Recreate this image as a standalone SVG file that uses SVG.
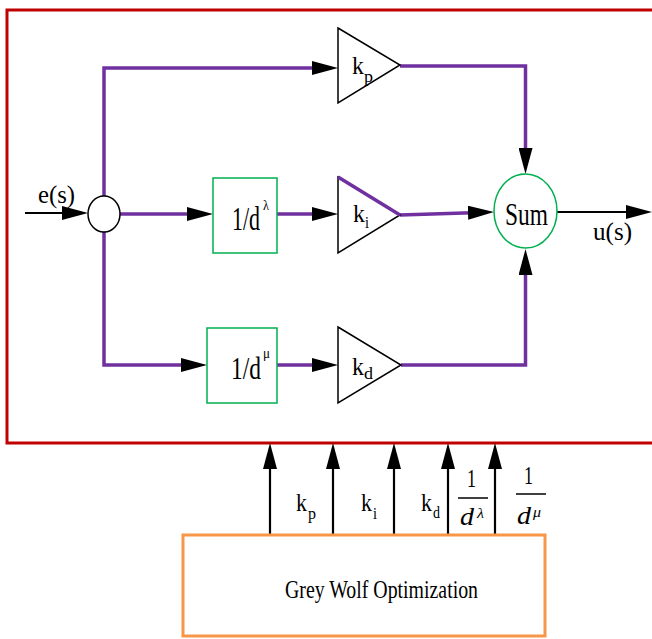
<svg xmlns="http://www.w3.org/2000/svg" width="652" height="639" viewBox="0 0 652 639">
<style>
.t{font-family:"Liberation Serif","Times New Roman","DejaVu Serif","Noto Serif",serif;fill:#000}
.it{font-style:italic}
.pu{fill:none;stroke:#7030a0;stroke-width:3.5}
.bk{fill:none;stroke:#000;stroke-width:2.2}
.gr{fill:#fff;stroke:#00b050;stroke-width:1.5}
.tri{fill:#fff;stroke:#000;stroke-width:1.5}
</style>
<defs>
<marker id="ah" markerUnits="userSpaceOnUse" markerWidth="26" markerHeight="14" refX="12" refY="7" orient="auto">
<path d="M0,0 L26,7 L0,14 z" fill="#000"/>
</marker>
</defs>
<rect width="652" height="639" fill="#fff"/>
<g id="frame">
<rect x="7" y="10" width="700" height="433" fill="none" stroke="#c00000" stroke-width="3"/>
</g>
<g id="connectors">
<path class="bk" d="M25,213 H74" marker-end="url(#ah)"/>
<path class="pu" d="M104,196 V68 H324" marker-end="url(#ah)"/>
<path class="pu" d="M400,66 H525.5 V160" marker-end="url(#ah)"/>
<path class="pu" d="M120,214 H199" marker-end="url(#ah)"/>
<path class="pu" d="M277,214 H324" marker-end="url(#ah)"/>
<path class="pu" d="M400,215 L480,212.4" marker-end="url(#ah)"/>
<path class="bk" d="M557,212 H638" marker-end="url(#ah)"/>
<path class="pu" d="M104,232 V365 H193" marker-end="url(#ah)"/>
<path class="pu" d="M277,365 H324" marker-end="url(#ah)"/>
<path class="pu" d="M401,365 H525.5 V263" marker-end="url(#ah)"/>
<path class="bk" d="M270,535 V457" marker-end="url(#ah)"/>
<path class="bk" d="M333,535 V457" marker-end="url(#ah)"/>
<path class="bk" d="M394,535 V457" marker-end="url(#ah)"/>
<path class="bk" d="M448,535 V457" marker-end="url(#ah)"/>
<path class="bk" d="M495,535 V457" marker-end="url(#ah)"/>
</g>
<g id="junction">
<ellipse cx="104" cy="214" rx="16" ry="18" fill="#fff" stroke="#000" stroke-width="1.5"/>
</g>
<g id="kp">
<polygon class="tri" points="338,28 400,65 338,103"/>
<text class="t" x="352" y="74" font-size="26" textLength="12" lengthAdjust="spacingAndGlyphs">k</text>
<text class="t" x="364" y="82" font-size="17" textLength="9" lengthAdjust="spacingAndGlyphs">p</text>
</g>
<g id="ki">
<polygon class="tri" points="338,177 400,215 338,253"/>
<line x1="338" y1="177" x2="400" y2="215" stroke="#7030a0" stroke-width="3.5"/>
<text class="t" x="353" y="222" font-size="26" textLength="12" lengthAdjust="spacingAndGlyphs">k</text>
<text class="t" x="365" y="228" font-size="17" textLength="4" lengthAdjust="spacingAndGlyphs">i</text>
</g>
<g id="kd">
<polygon class="tri" points="338,327 401,365 338,403"/>
<text class="t" x="352" y="375" font-size="26" textLength="12" lengthAdjust="spacingAndGlyphs">k</text>
<text class="t" x="364" y="379" font-size="17" textLength="9" lengthAdjust="spacingAndGlyphs">d</text>
</g>
<g id="int">
<rect class="gr" x="213" y="178" width="64" height="75"/>
<text class="t" x="232" y="230" font-size="33" textLength="28" lengthAdjust="spacingAndGlyphs">1/d</text>
<text class="t" x="263" y="210" font-size="14" textLength="6" lengthAdjust="spacingAndGlyphs">λ</text>
</g>
<g id="der">
<rect class="gr" x="207" y="328" width="70" height="75"/>
<text class="t" x="231" y="379" font-size="31" textLength="30" lengthAdjust="spacingAndGlyphs">1/d</text>
<text class="t" x="263" y="358" font-size="14" textLength="7" lengthAdjust="spacingAndGlyphs">μ</text>
</g>
<g id="sum">
<ellipse class="gr" cx="525.5" cy="211" rx="31.5" ry="37"/>
<text class="t" x="505" y="225" font-size="31" textLength="43" lengthAdjust="spacingAndGlyphs">Sum</text>
</g>
<g id="labels">
<text class="t" x="38" y="203" font-size="26" textLength="37" lengthAdjust="spacingAndGlyphs">e(s)</text>
<text class="t" x="593" y="240" font-size="26" textLength="39" lengthAdjust="spacingAndGlyphs">u(s)</text>
<text class="t" x="296" y="511" font-size="26" textLength="11" lengthAdjust="spacingAndGlyphs">k</text>
<text class="t" x="308" y="519" font-size="17" textLength="8" lengthAdjust="spacingAndGlyphs">p</text>
<text class="t" x="361" y="511" font-size="26" textLength="11" lengthAdjust="spacingAndGlyphs">k</text>
<text class="t" x="373" y="519" font-size="17" textLength="4" lengthAdjust="spacingAndGlyphs">i</text>
<text class="t" x="421" y="511" font-size="26" textLength="11" lengthAdjust="spacingAndGlyphs">k</text>
<text class="t" x="433" y="518" font-size="17" textLength="7" lengthAdjust="spacingAndGlyphs">d</text>
<text class="t" x="467" y="487" font-size="26" textLength="9" lengthAdjust="spacingAndGlyphs">1</text>
<line x1="458" y1="498" x2="488" y2="498" stroke="#000" stroke-width="1.5"/>
<text class="t it" x="460" y="525" font-size="26" textLength="14" lengthAdjust="spacingAndGlyphs">d</text>
<text class="t it" x="477" y="518" font-size="14" textLength="7" lengthAdjust="spacingAndGlyphs">λ</text>
<text class="t" x="524" y="484" font-size="26" textLength="9" lengthAdjust="spacingAndGlyphs">1</text>
<line x1="516" y1="494" x2="546" y2="494" stroke="#000" stroke-width="1.5"/>
<text class="t it" x="517" y="524" font-size="26" textLength="14" lengthAdjust="spacingAndGlyphs">d</text>
<text class="t it" x="533" y="517" font-size="14" textLength="8" lengthAdjust="spacingAndGlyphs">μ</text>
</g>
<g id="gwo">
<rect x="183" y="535" width="362" height="101" fill="none" stroke="#f79646" stroke-width="3"/>
<text class="t" x="285" y="598" font-size="26" textLength="193" lengthAdjust="spacingAndGlyphs">Grey Wolf Optimization</text>
</g>
</svg>
